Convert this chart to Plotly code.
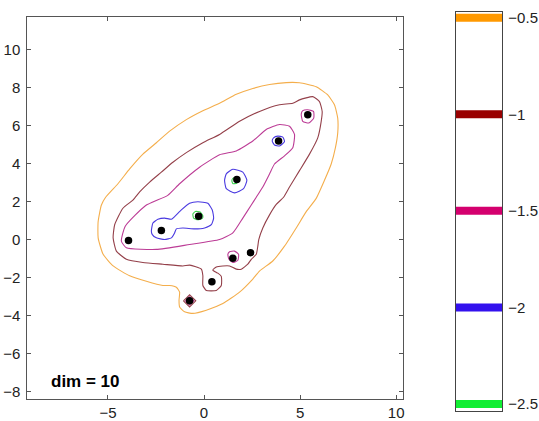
import plotly.graph_objects as go

# ---------------- data ----------------
levels = [-0.5, -1.0, -1.5, -2.0, -2.5]
level_labels = ["\u22120.5", "\u22121", "\u22121.5", "\u22122", "\u22122.5"]

pts_x = [5.40, 3.88, 1.71, -0.28, -2.22, -3.93, 1.50, 2.42, 0.41, -0.75]
pts_y = [6.58, 5.19, 3.17, 1.23, 0.48, -0.05, -0.99, -0.69, -2.22, -3.23]

# level -0.5
orange_x = [-5.51, -5.51, -5.34, -5.12, -4.48, -3.87, -3.18, -2.48, -1.79, -0.92,
            -0.06, 0.81, 1.68, 2.54, 3.41, 4.28, 4.97, 5.84, 6.44, 6.79,
            6.96, 6.96, 6.84, 6.62, 6.27, 5.84, 5.32, 4.80, 4.19, 3.58,
            2.90, 2.54, 1.85, 0.98, 0.12, -0.58, -1.01, -1.27, -1.30, -1.27,
            -1.44, -1.79, -2.14, -3.00, -3.87, -4.73, -5.25]
orange_y = [0.09, 0.95, 1.82, 2.23, 2.94, 3.72, 4.50, 5.10, 5.71, 6.32,
            6.79, 7.18, 7.65, 7.96, 8.17, 8.27, 8.26, 8.05, 7.62, 7.10,
            6.40, 5.62, 4.84, 3.98, 3.12, 2.17, 1.47, 0.61, -0.35, -1.13,
            -1.65, -2.08, -2.77, -3.37, -3.72, -3.89, -3.81, -3.55, -3.20, -2.77,
            -2.51, -2.42, -2.42, -2.20, -1.91, -1.39, -0.78]

# level -1
darkred_x = [-3.70, -3.35, -2.83, -2.22, -1.62, -0.92, -0.06, 0.81, 1.85, 2.89,
             3.93, 4.62, 4.97, 5.66, 6.01, 6.15, 6.10, 5.92, 5.49, 4.97,
             4.45, 4.14, 3.76, 3.41, 3.06, 2.85, 2.80, 2.72, 2.46, 2.28,
             1.94, 1.68, 1.33, 0.98, 0.64, 0.46, 0.72, 0.90, 0.90, 0.64,
             0.12, -0.06, -0.06, -0.14, -0.74, -1.10, -2.14, -3.18, -4.04, -4.56,
             -4.73, -4.65, -4.22]
darkred_y = [2.08, 2.51, 3.03, 3.55, 4.07, 4.58, 5.10, 5.54, 6.23, 6.75,
             7.10, 7.18, 7.36, 7.53, 7.27, 6.75, 6.23, 5.36, 4.50, 3.63,
             2.77, 2.23, 1.85, 1.30, 0.61, 0.00, -0.35, -0.78, -1.04, -1.30,
             -1.56, -1.56, -1.39, -1.39, -1.44, -1.61, -1.77, -1.94, -2.42, -2.68,
             -2.68, -2.42, -1.91, -1.56, -1.35, -1.39, -1.30, -1.21, -1.04, -0.61,
             0.09, 0.78, 1.65]
darkred_p10_x = [-1.07, -0.75, -0.43, -0.75]
darkred_p10_y = [-3.23, -2.91, -3.23, -3.55]

# level -1.5
magenta_x = [-4.30, -4.10, -3.05, -1.89, -1.27, -0.23, 0.81, 1.68, 2.54, 3.24,
             3.93, 4.45, 4.71, 4.62, 4.19, 3.67, 3.41, 3.06, 2.72, 2.46,
             2.02, 1.50, 0.81, -0.75, -2.48, -4.04]
magenta_y = [-0.09, 0.70, 1.78, 2.33, 2.94, 3.81, 4.47, 4.67, 5.19, 5.80,
             6.06, 5.97, 5.54, 4.84, 4.41, 3.98, 3.46, 2.77, 2.23, 1.82,
             1.13, 0.35, 0.00, -0.26, -0.52, -0.43]
magenta_p1_x = [5.06, 5.14, 5.45, 5.71, 5.70, 5.40, 5.14]
magenta_p1_y = [6.61, 6.23, 6.14, 6.40, 6.75, 6.84, 6.79]
magenta_p7_x = [1.24, 1.30, 1.50, 1.76, 1.80, 1.59, 1.33]
magenta_p7_y = [-0.78, -1.04, -1.21, -1.09, -0.78, -0.61, -0.64]
magenta_p10_x = [-0.97, -0.75, -0.53, -0.75]
magenta_p10_y = [-3.23, -3.01, -3.23, -3.45]

# level -2
blue_p2_x = [3.55, 3.67, 3.93, 4.19, 4.10, 3.84, 3.62]
blue_p2_y = [5.19, 4.98, 4.93, 5.16, 5.40, 5.45, 5.36]
blue_p3_x = [1.07, 1.16, 1.59, 2.06, 2.23, 2.02, 1.50, 1.16]
blue_p3_y = [3.12, 2.68, 2.46, 2.68, 3.12, 3.55, 3.70, 3.46]
blue_p45_x = [-2.74, -2.66, -2.40, -2.05, -1.70, -1.53, -1.18, -0.75, -0.32, 0.20,
              0.43, 0.50, 0.38, 0.03, -0.49, -1.10, -1.44, -1.53, -1.70, -2.05,
              -2.48, -2.69]
blue_p45_y = [0.43, 0.87, 1.07, 1.13, 1.07, 1.21, 1.56, 1.91, 1.99, 1.91,
              1.56, 1.13, 0.78, 0.61, 0.56, 0.61, 0.56, 0.35, 0.09, 0.00,
              0.09, 0.26]

# level -2.5
green_p4_x = [-0.58, -0.54, -0.32, -0.09, -0.06, -0.20, -0.45]
green_p4_y = [1.35, 1.13, 1.04, 1.11, 1.25, 1.45, 1.48]
green_p3_x = [1.45, 1.50, 1.70, 1.78, 1.65, 1.50]
green_p3_y = [3.10, 2.95, 2.97, 3.12, 3.25, 3.22]

x_ticks = [-5, 0, 5, 10]
y_ticks = [-8, -6, -4, -2, 0, 2, 4, 6, 8, 10]
label_text = "dim = 10"

# ---------------- style ----------------
bar_colors = ["#FF9900", "#990000", "#D4006E", "#3311EE", "#11EE33"]
line_colors = ["#F4AE4C", "#94404A", "#BC3C96", "#4A3AE0", "#40D050"]

rings = [
    (0, orange_x, orange_y, "spline"),
    (1, darkred_x, darkred_y, "spline"),
    (1, darkred_p10_x, darkred_p10_y, "linear"),
    (2, magenta_x, magenta_y, "spline"),
    (2, magenta_p1_x, magenta_p1_y, "spline"),
    (2, magenta_p7_x, magenta_p7_y, "spline"),
    (2, magenta_p10_x, magenta_p10_y, "linear"),
    (3, blue_p2_x, blue_p2_y, "spline"),
    (3, blue_p3_x, blue_p3_y, "spline"),
    (3, blue_p45_x, blue_p45_y, "spline"),
    (4, green_p4_x, green_p4_y, "spline"),
    (4, green_p3_x, green_p3_y, "spline"),
]

fig = go.Figure()
for li, xs, ys, shp in rings:
    fig.add_trace(go.Scatter(
        x=list(xs) + [xs[0]], y=list(ys) + [ys[0]], mode="lines",
        line=dict(color=line_colors[li], width=1.1, shape=shp, smoothing=0.5),
        hoverinfo="skip", showlegend=False, xaxis="x", yaxis="y"))

fig.add_trace(go.Scatter(
    x=pts_x, y=pts_y, mode="markers",
    marker=dict(color="black", size=7.5, line=dict(width=0)),
    hoverinfo="skip", showlegend=False, xaxis="x", yaxis="y"))

# legend bars
for lv, col in zip(levels, bar_colors):
    fig.add_trace(go.Scatter(
        x=[0, 1], y=[lv, lv], mode="lines",
        line=dict(color=col, width=8),
        hoverinfo="skip", showlegend=False, xaxis="x2", yaxis="y2"))

W, H = 539, 421
font = "Liberation Sans, Arial, sans-serif"
fig.update_layout(
    width=W, height=H,
    margin=dict(l=0, r=0, t=0, b=0),
    paper_bgcolor="white", plot_bgcolor="white",
    font=dict(family=font, size=15, color="#222"),
    showlegend=False, hovermode=False,
    xaxis=dict(domain=[27.3 / W, 404 / W], range=[-9.2, 10.37],
               tickvals=x_ticks, ticks="inside", ticklen=4, tickcolor="#555",
               showline=True, linecolor="#555", linewidth=1, mirror="allticks",
               showgrid=False, zeroline=False, tickfont=dict(size=15),
               anchor="y"),
    yaxis=dict(domain=[(H - 401.7) / H, (H - 14.7) / H], range=[-8.4, 11.7],
               tickvals=y_ticks, ticks="inside", ticklen=4, tickcolor="#555",
               showline=True, linecolor="#555", linewidth=1, mirror="allticks",
               showgrid=False, zeroline=False, tickfont=dict(size=15),
               ticklabelstandoff=3, anchor="x"),
    xaxis2=dict(domain=[456.7 / W, 503.3 / W], range=[0, 1],
                showticklabels=False, ticks="", showline=True, linecolor="#444",
                linewidth=1, mirror=True, showgrid=False, zeroline=False,
                anchor="y2", fixedrange=True),
    yaxis2=dict(domain=[(H - 414) / H, (H - 9.3) / H], range=[-2.537, -0.471],
                side="right", tickvals=levels, ticktext=level_labels, ticks="",
                showline=True, linecolor="#444", linewidth=1, mirror=True,
                showgrid=False, zeroline=False, tickfont=dict(size=15),
                ticklabelstandoff=2, anchor="x2", fixedrange=True),
    annotations=[dict(text="<b>" + label_text + "</b>", xref="paper", yref="paper",
                      x=49.3 / W, y=(H - 384) / H, xanchor="left", yanchor="middle",
                      showarrow=False, font=dict(size=17, color="black", family=font))],
)

fig.write_html("out.html", config={"displayModeBar": False},
               post_script="document.body.style.margin='0';")
